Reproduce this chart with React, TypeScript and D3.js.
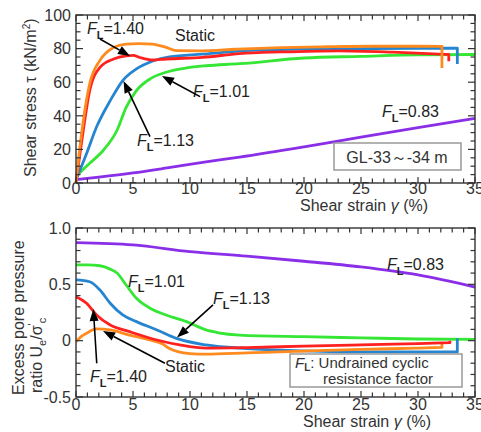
import React from "react";
import * as d3 from "d3";

type P = [number, number];

// ---------- data ----------
const strainTicks = [0, 5, 10, 15, 20, 25, 30, 35];
const stressTicks = [0, 20, 40, 60, 80, 100];
const ratioTicks = [-0.5, 0, 0.5, 1.0];
const ratioTickLabels = ["-0.5", "0", "0.5", "1.0"];

// Shear stress (kN/m2) vs shear strain (%)
const stressStatic: P[] = [[0, 0], [0.3, 19], [0.64, 37], [1.2, 59], [2.1, 73], [3.3, 80.7], [4.4, 82.7], [5.5, 83], [6.7, 82.7], [7.9, 80.7], [8.8, 78.8], [11, 78.7], [14, 79.6], [18, 80.6], [22, 81.1], [26, 81.4], [30, 81.4], [32.1, 81.3], [32.1, 68.5]];
const stress140: P[] = [[0, 0], [0.3, 15], [0.64, 31.4], [1.2, 55], [2.1, 68.8], [3.3, 73.8], [4.4, 75.7], [5.0, 76], [5.6, 74.7], [6.7, 73.2], [7.9, 73.8], [11.1, 74.8], [14.35, 77], [18, 78], [23, 78.7], [27.8, 77.9], [32.4, 76.6], [32.7, 76.5], [32.7, 72.4]];
const stress113: P[] = [[0, 2], [0.93, 17.6], [1.8, 33.3], [3.0, 49], [4.1, 61], [5.3, 67.9], [6.8, 72.8], [8.2, 75.1], [11.1, 76.7], [14.35, 78.5], [20, 79.7], [25, 80], [30, 80.2], [33.45, 80.2], [33.45, 70.8]];
const stress101: P[] = [[0, 4], [1.2, 11.7], [2.4, 19.5], [3.6, 31.4], [4.4, 45], [5.3, 55], [6.5, 62], [7.9, 65.9], [9.7, 68.5], [11.4, 69.8], [14.35, 71], [20, 74.4], [25, 75.4], [30, 76.3], [35, 76.5]];
const stress083: P[] = [[0, 2], [2, 3.5], [5, 6], [8, 9], [11.4, 12.6], [14.35, 15.4], [20, 21.5], [25, 27.3], [30, 33], [35, 38.5]];

// Excess pore pressure ratio vs shear strain (%)
const ratioStatic: P[] = [[0, -0.01], [0.5, 0.04], [0.93, 0.066], [1.8, 0.104], [3.0, 0.095], [4.7, 0.05], [6.5, 0.006], [7.6, -0.03], [8.2, -0.07], [9, -0.1], [10, -0.115], [11.4, -0.12], [15, -0.108], [20, -0.092], [25, -0.077], [30, -0.066], [32.1, -0.06], [32.1, -0.02]];
const ratio140: P[] = [[0, 0.39], [0.93, 0.332], [1.8, 0.228], [3.0, 0.139], [4.7, 0.08], [7.1, 0.006], [9.1, -0.038], [11.4, -0.067], [15, -0.062], [20, -0.048], [25, -0.037], [30, -0.027], [32.8, -0.018], [32.8, 0.0]];
const ratio113: P[] = [[0, 0.539], [1.2, 0.523], [2.1, 0.45], [3.0, 0.332], [4.1, 0.228], [5.3, 0.169], [7.1, 0.095], [8.8, 0.02], [11.4, -0.038], [15, -0.07], [20, -0.09], [25, -0.1], [30, -0.1], [33.45, -0.1], [33.45, 0.02]];
const ratio101: P[] = [[0, 0.672], [1, 0.672], [2.1, 0.665], [3.0, 0.635], [3.6, 0.6], [4.4, 0.494], [5.3, 0.376], [6.5, 0.288], [7.9, 0.228], [9.7, 0.169], [11.4, 0.095], [12.5, 0.07], [14.35, 0.05], [20, 0.035], [25, 0.025], [30, 0.015], [35, 0.012]];
const ratio083: P[] = [[0, 0.87], [5, 0.85], [10, 0.79], [15, 0.75], [20, 0.705], [25, 0.654], [30, 0.583], [35, 0.476]];

const colors = {
  static: "#ff8a1e",
  r140: "#ff2020",
  r113: "#2585d0",
  r101: "#35e635",
  r083: "#8a2ee8",
};

// ---------- layout ----------
const W = 481;
const H = 432;
const FONT = "'Liberation Sans', Arial, sans-serif";
const x = d3.scaleLinear().domain([0, 35]).range([76, 475]);
const yT = d3.scaleLinear().domain([0, 100]).range([183, 15]);
const yB = d3.scaleLinear().domain([-0.5, 1]).range([397, 228]);

function seriesPath(data: P[], ys: d3.ScaleLinear<number, number>) {
  const n = data.length;
  const hasDrop = n > 2 && data[n - 1][0] === data[n - 2][0];
  const main = hasDrop ? data.slice(0, -1) : data;
  const line = d3
    .line<P>()
    .x((d) => x(d[0]))
    .y((d) => ys(d[1]))
    .curve(d3.curveMonotoneX);
  let p = line(main) || "";
  if (hasDrop) p += `L${x(data[n - 1][0])},${ys(data[n - 1][1])}`;
  return p;
}

function Arrow({ x1, y1, x2, y2 }: { x1: number; y1: number; x2: number; y2: number }) {
  const dx = x2 - x1;
  const dy = y2 - y1;
  const len = Math.sqrt(dx * dx + dy * dy);
  const ux = dx / len;
  const uy = dy / len;
  const hl = 12;
  const hw = 4.5;
  const bx = x2 - ux * hl;
  const by = y2 - uy * hl;
  const pts = `${x2},${y2} ${bx - uy * hw},${by + ux * hw} ${bx + uy * hw},${by - ux * hw}`;
  return (
    <g>
      <line x1={x1} y1={y1} x2={bx} y2={by} stroke="#000" strokeWidth={1.6} />
      <polygon points={pts} fill="#000" />
    </g>
  );
}

function FL({ px, py, value }: { px: number; py: number; value: string }) {
  return (
    <text x={px} y={py} fontSize={16} fontFamily={FONT} fill="#222">
      <tspan fontStyle="italic">F</tspan>
      <tspan fontSize={11} dy={5} fontWeight="bold">L</tspan>
      <tspan dy={-5}>{"=" + value}</tspan>
    </text>
  );
}

function Frame({ ys, yMinor, yMajor, yDom }: { ys: d3.ScaleLinear<number, number>; yMinor: number[]; yMajor: number[]; yDom: [number, number] }) {
  const top = ys(yDom[1]);
  const bot = ys(yDom[0]);
  const l = x(0);
  const r = x(35);
  const xMinor = d3.range(0, 36, 1);
  const isMajor = (v: number) => yMajor.some((m) => Math.abs(m - v) < 1e-6);
  return (
    <g stroke="#333" strokeWidth={1.2}>
      {xMinor.map((v) => {
        const len = v % 5 === 0 ? 6 : 4.5;
        return (
          <g key={"x" + v}>
            <line x1={x(v)} x2={x(v)} y1={bot} y2={bot - len} />
            <line x1={x(v)} x2={x(v)} y1={top} y2={top + len} />
          </g>
        );
      })}
      {yMinor.map((v, i) => {
        const len = isMajor(v) ? 7 : 4.5;
        return (
          <g key={"y" + i}>
            <line x1={l} x2={l + len} y1={ys(v)} y2={ys(v)} />
            <line x1={r} x2={r - len} y1={ys(v)} y2={ys(v)} />
          </g>
        );
      })}
      <rect x={l} y={top} width={r - l} height={bot - top} fill="none" stroke="#333" strokeWidth={1.4} />
    </g>
  );
}

export default function App() {
  const topSeries: [P[], string][] = [
    [stress083, colors.r083],
    [stress101, colors.r101],
    [stress113, colors.r113],
    [stress140, colors.r140],
    [stressStatic, colors.static],
  ];
  const botSeries: [P[], string][] = [
    [ratio083, colors.r083],
    [ratio101, colors.r101],
    [ratio113, colors.r113],
    [ratioStatic, colors.static],
    [ratio140, colors.r140],
  ];
  const stressMinor = d3.range(0, 101, 5);
  const ratioMinor = d3.range(-5, 11, 1).map((v) => v / 10);

  return (
    <svg
      width={W}
      height={H}
      viewBox={`0 0 ${W} ${H}`}
      style={{ position: "absolute", left: 0, top: 0, background: "#fff" }}
      fontFamily={FONT}
    >
      <rect x={0} y={0} width={W} height={H} fill="#fff" />

      {/* ---------- top chart ---------- */}
      {topSeries.map(([d, c], i) => (
        <path key={"t" + i} d={seriesPath(d, yT)} fill="none" stroke={c} strokeWidth={2.8} strokeLinejoin="round" />
      ))}
      <Frame ys={yT} yMinor={stressMinor} yMajor={stressTicks} yDom={[0, 100]} />
      {stressTicks.map((v) => (
        <text key={"st" + v} x={71} y={yT(v)} dy="0.36em" textAnchor="end" fontSize={16} fill="#333">
          {v}
        </text>
      ))}
      {strainTicks.map((v) => (
        <text key={"sx" + v} x={x(v)} y={194} textAnchor="middle" fontSize={16} fill="#333">
          {v}
        </text>
      ))}
      <text transform="translate(36,177) rotate(-90)" fontSize={16} fill="#333">
        Shear stress τ (kN/m<tspan fontSize={10} dy={-6}>2</tspan><tspan dy={6}>)</tspan>
      </text>
      <text x={300} y={211} fontSize={16} fill="#333">
        Shear strain <tspan fontStyle="italic">γ</tspan> (%)
      </text>

      {/* top annotations */}
      <FL px={87} py={34} value="1.40" />
      <text x={175} y={41} fontSize={16} fill="#222">Static</text>
      <FL px={137} py={146} value="1.13" />
      <FL px={193} py={97} value="1.01" />
      <FL px={382} py={117} value="0.83" />
      <Arrow x1={x(2.1)} y1={yT(85.7)} x2={x(4.74)} y2={yT(75.6)} />
      <Arrow x1={x(6.49)} y1={yT(27.6)} x2={x(4.17)} y2={yT(60.7)} />
      <Arrow x1={x(10.88)} y1={yT(51.4)} x2={x(7.54)} y2={yT(63.7)} />
      <rect x={334} y={143} width={127} height={27} fill="#fff" stroke="#999" strokeWidth={1.5} />
      <text x={397} y={163} textAnchor="middle" fontSize={16} fill="#333">GL-33～-34 m</text>

      {/* ---------- bottom chart ---------- */}
      {botSeries.map(([d, c], i) => (
        <path key={"b" + i} d={seriesPath(d, yB)} fill="none" stroke={c} strokeWidth={2.8} strokeLinejoin="round" />
      ))}
      <Frame ys={yB} yMinor={ratioMinor} yMajor={ratioTicks} yDom={[-0.5, 1]} />
      {ratioTicks.map((v, i) => (
        <text key={"rt" + i} x={71} y={yB(v)} dy="0.36em" textAnchor="end" fontSize={16} fill="#333">
          {ratioTickLabels[i]}
        </text>
      ))}
      {strainTicks.map((v) => (
        <text key={"bx" + v} x={x(v)} y={410} textAnchor="middle" fontSize={16} fill="#333">
          {v}
        </text>
      ))}
      <text transform="translate(24,395) rotate(-90)" fontSize={16} fill="#333">
        Excess pore pressure
      </text>
      <text transform="translate(42,393) rotate(-90)" fontSize={16} fill="#333">
        ratio U<tspan fontSize={11} dy={4}>e</tspan>
        <tspan dy={-4}>/σ</tspan>
        <tspan fontSize={11} dy={-6}>'</tspan>
        <tspan fontSize={11} dy={10}>c</tspan>
      </text>
      <text x={303} y={427} fontSize={16} fill="#333">
        Shear strain <tspan fontStyle="italic">γ</tspan>  (%)
      </text>

      {/* bottom annotations */}
      <FL px={128} py={287} value="1.01" />
      <FL px={213} py={304} value="1.13" />
      <text x={165} y={372} fontSize={16} fill="#222">Static</text>
      <FL px={90} py={382} value="1.40" />
      <FL px={387} py={270} value="0.83" />
      <Arrow x1={x(12.02)} y1={yB(0.317)} x2={x(8.86)} y2={yB(0.028)} />
      <Arrow x1={x(7.8)} y1={yB(-0.2)} x2={x(2.37)} y2={yB(0.086)} />
      <Arrow x1={x(1.82)} y1={yB(-0.2)} x2={x(1.52)} y2={yB(0.281)} />
      <rect x={290} y={354} width={172} height={33} fill="#fff" stroke="#999" strokeWidth={1.5} />
      <text x={295} y={368} fontSize={15} fill="#333">
        <tspan fontStyle="italic">F</tspan>
        <tspan fontSize={10} dy={3} fontWeight="bold">L</tspan>
        <tspan dy={-3}>: Undrained cyclic</tspan>
      </text>
      <text x={323} y={384} fontSize={15} fill="#333">resistance factor</text>
    </svg>
  );
}
